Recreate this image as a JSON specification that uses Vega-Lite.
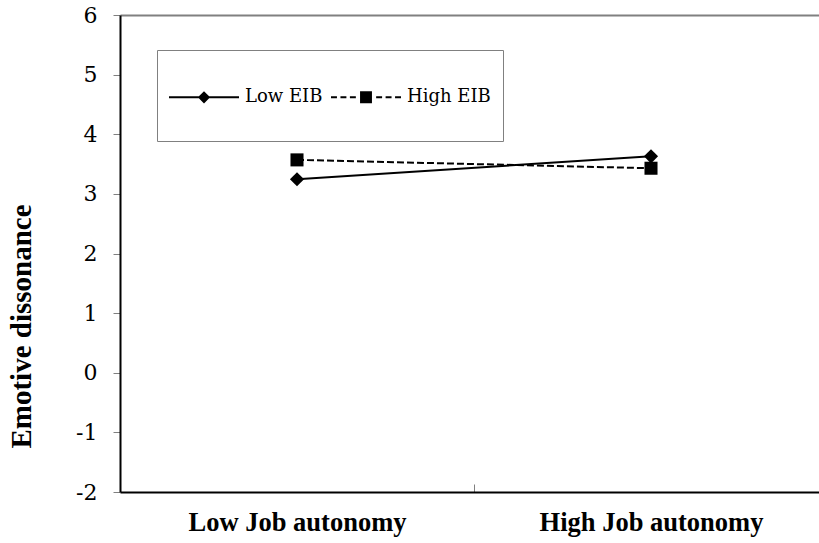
{
  "$schema": "https://vega.github.io/schema/vega-lite/v6.json",
  "width": 699,
  "height": 477,
  "autosize": {"type": "none"},
  "padding": {"left": 120, "top": 15, "right": 0, "bottom": 51},
  "background": "white",
  "config": {
    "view": {"stroke": null},
    "font": "Liberation Serif, Times New Roman, Times, serif"
  },
  "data": {"values": [
    {"series": "Low EIB", "autonomy": "Low Job autonomy", "value": 3.245},
    {"series": "Low EIB", "autonomy": "High Job autonomy", "value": 3.63},
    {"series": "High EIB", "autonomy": "Low Job autonomy", "value": 3.57},
    {"series": "High EIB", "autonomy": "High Job autonomy", "value": 3.43}
  ]},
  "encoding": {
    "x": {
      "field": "autonomy", "type": "nominal",
      "sort": ["Low Job autonomy", "High Job autonomy"],
      "scale": {"type": "band", "range": [0, 708], "paddingInner": 0, "paddingOuter": 0},
      "axis": {
        "title": null, "labelAngle": 0, "labelLimit": 0,
        "labelFontWeight": "bold", "labelFontSize": 26.5, "labelColor": "black",
        "labelPadding": 25,
        "domainColor": "black", "domainWidth": 2,
        "tickColor": "#808080", "tickWidth": 1, "tickSize": -8, "tickBand": "extent"
      }
    },
    "y": {
      "field": "value", "type": "quantitative",
      "scale": {"domain": [-2, 6], "nice": false, "zero": false},
      "axis": {
        "title": "Emotive dissonance",
        "titleFontWeight": "bold", "titleFontSize": 29, "titleColor": "black",
        "titleX": -90, "titleY": 311, "titleAngle": -90, "titleAlign": "center", "titleBaseline": "alphabetic",
        "values": [-2, -1, 0, 1, 2, 3, 4, 5, 6],
        "labelExpr": "'' + datum.value",
        "grid": true,
        "gridColor": {"condition": {"test": "datum.value === 6", "value": "#808080"}, "value": "transparent"},
        "gridWidth": 2, "gridOpacity": 1,
        "domainColor": "black", "domainWidth": 2,
        "tickColor": "#808080", "tickWidth": 1, "tickSize": 7,
        "labelFont": "DejaVu Serif", "labelFontSize": 22, "labelColor": "black", "labelPadding": 16
      }
    }
  },
  "layer": [
    {
      "transform": [{"filter": "datum.series === 'Low EIB'"}],
      "mark": {"type": "line", "color": "black", "strokeWidth": 2},
      "encoding": {}
    },
    {
      "transform": [{"filter": "datum.series === 'High EIB'"}],
      "mark": {"type": "line", "color": "black", "strokeWidth": 2, "strokeDash": [7, 3]},
      "encoding": {}
    },
    {
      "transform": [{"filter": "datum.series === 'Low EIB'"}],
      "mark": {"type": "point", "shape": "diamond", "size": 200, "filled": true, "color": "black", "opacity": 1, "strokeWidth": 0}
    },
    {
      "transform": [{"filter": "datum.series === 'High EIB'"}],
      "mark": {"type": "point", "shape": "square", "size": 170, "filled": true, "color": "black", "opacity": 1, "strokeWidth": 0}
    },
    {
      "mark": {"type": "point", "filled": true, "color": "black", "opacity": 1, "strokeWidth": 0, "size": 0},
      "encoding": {
        "shape": {
          "field": "series", "type": "nominal",
          "scale": {"domain": ["Low EIB", "High EIB"], "range": [
            "M0,-0.9L0.001,-0.9 M0,0.9L0.001,0.9 M-1,-0.03H1V0.03H-1Z M0,-0.175L0.175,0L0,0.175L-0.175,0Z",
            "M0,-0.9L0.001,-0.9 M0,0.9L0.001,0.9 M-1,-0.03H-0.83V0.03H-1Z M-0.73,-0.03H-0.56V0.03H-0.73Z M-0.46,-0.03H-0.29V0.03H-0.46Z M-0.17,-0.17H0.17V0.17H-0.17Z M0.29,-0.03H0.46V0.03H0.29Z M0.56,-0.03H0.73V0.03H0.56Z M0.83,-0.03H1V0.03H0.83Z"
          ]},
          "legend": {
            "title": null, "orient": "none", "legendX": 37, "legendY": 35,
            "direction": "horizontal",
            "strokeColor": "#808080", "fillColor": "white", "padding": 12,
            "symbolSize": 4900, "symbolOpacity": 1, "symbolFillColor": "black", "symbolStrokeWidth": 0,
            "labelFont": "DejaVu Serif", "labelFontSize": 18, "labelColor": "black",
            "labelOffset": 6, "columnPadding": 8
          }
        }
      }
    }
  ]
}
